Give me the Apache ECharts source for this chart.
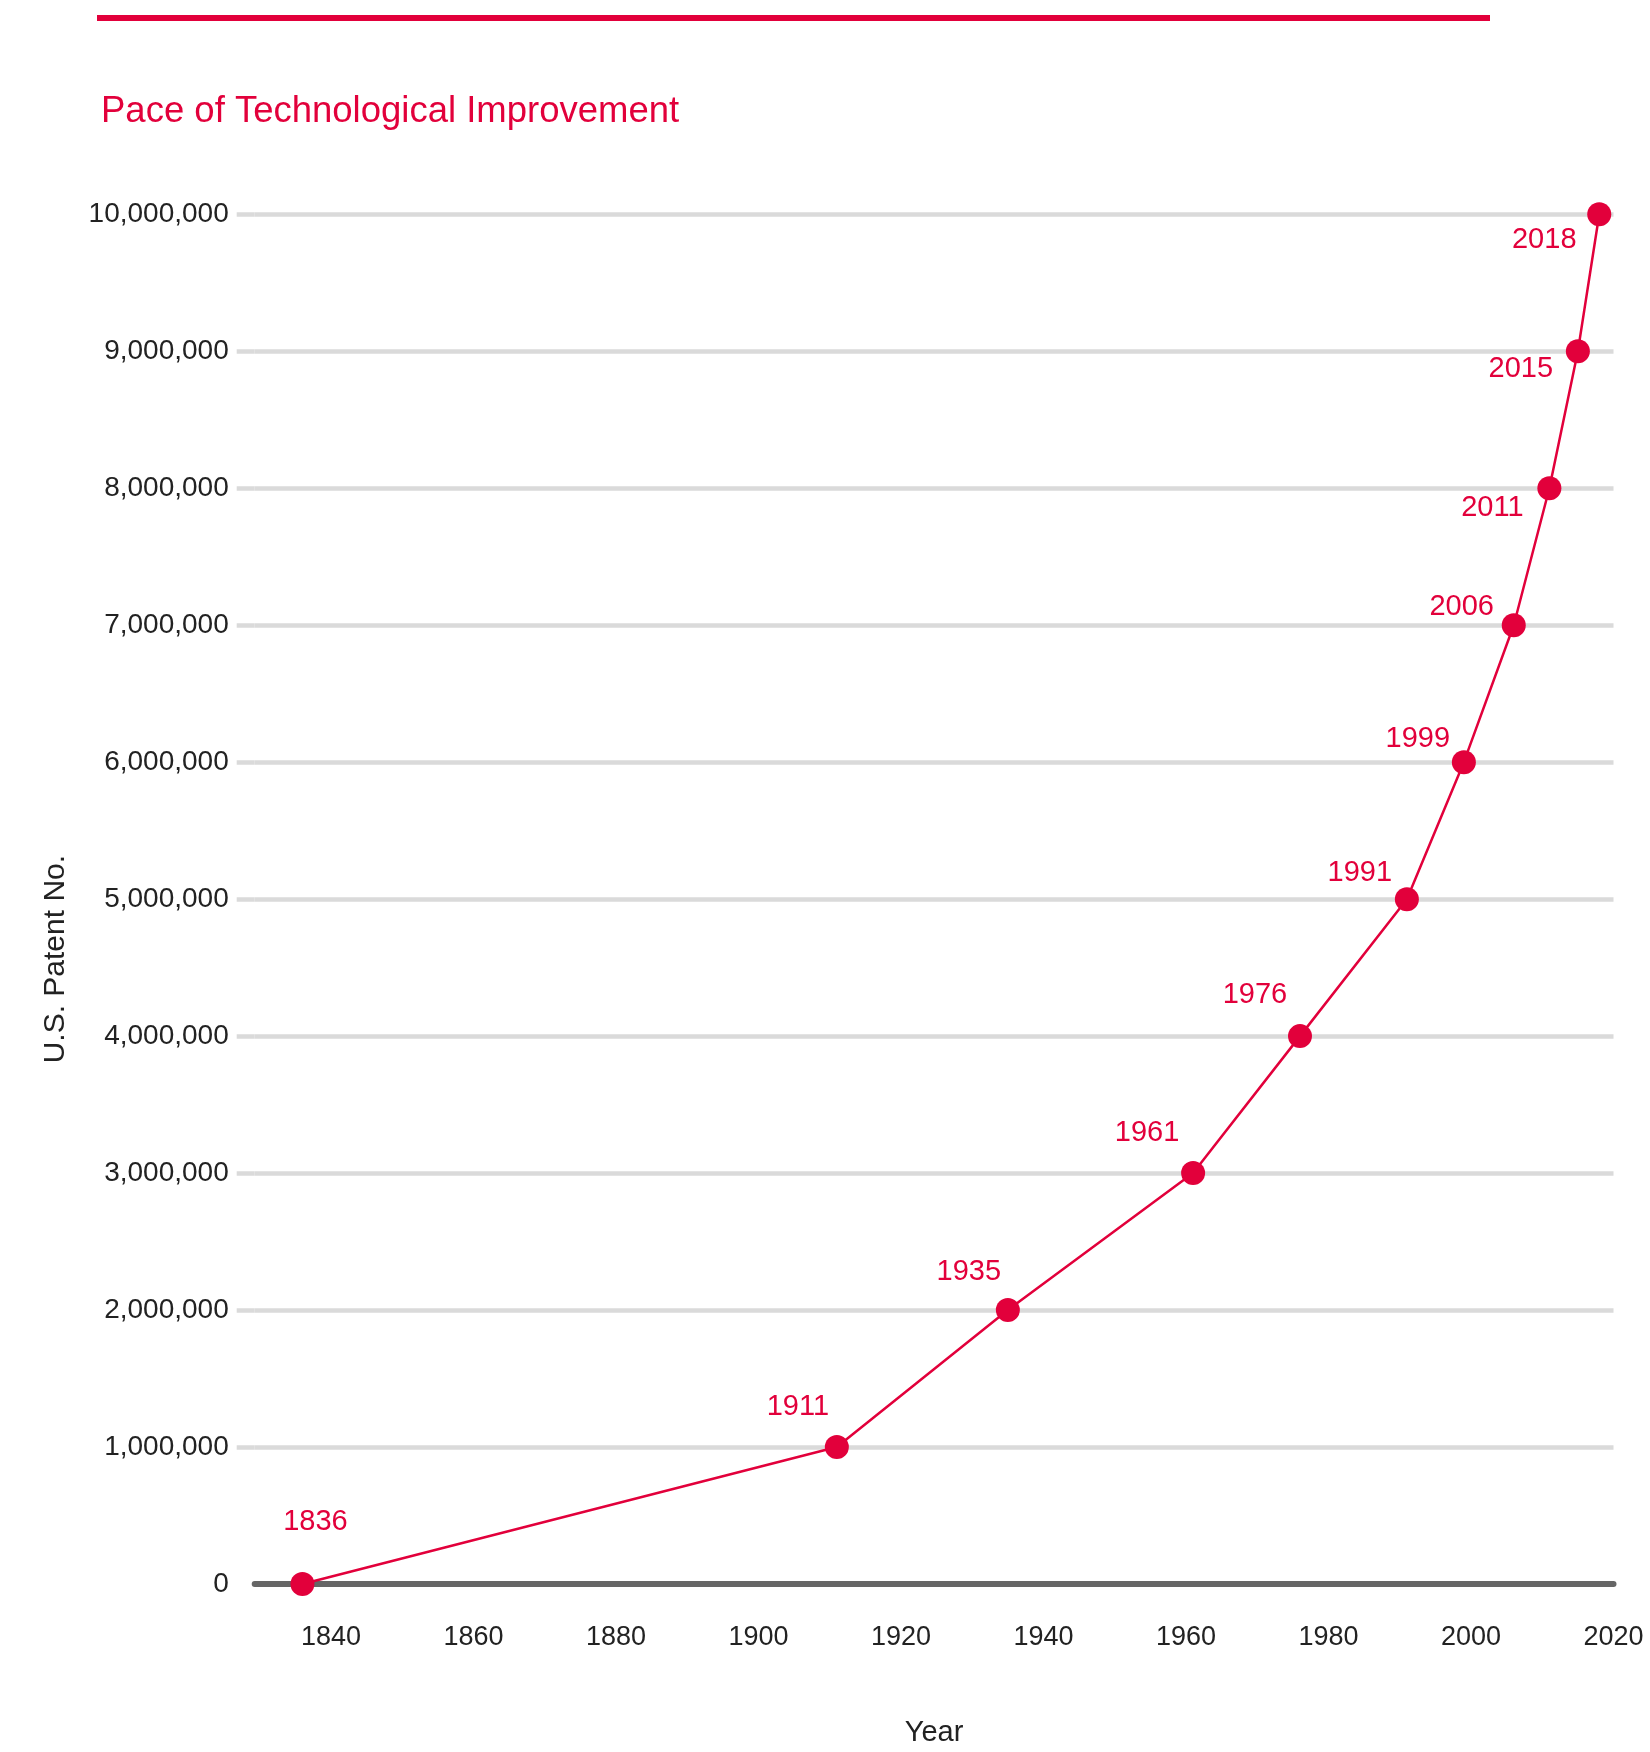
<!DOCTYPE html>
<html>
<head>
<meta charset="utf-8">
<script src="https://cdn.jsdelivr.net/npm/echarts@6/dist/echarts.min.js"></script>
<style>
html,body{margin:0;padding:0;background:#ffffff;}
#chart{width:1650px;height:1752px;}
</style>
</head>
<body>
<div id="chart"></div>
<script>
// ---- data ----
const years = [1836, 1911, 1935, 1961, 1976, 1991, 1999, 2006, 2011, 2015, 2018];
const patentNumbers = [1, 1000000, 2000000, 3000000, 4000000, 5000000, 6000000, 7000000, 8000000, 9000000, 10000000];
const xTickValues = [1840, 1860, 1880, 1900, 1920, 1940, 1960, 1980, 2000, 2020];
const yTickValues = [0, 1000000, 2000000, 3000000, 4000000, 5000000, 6000000, 7000000, 8000000, 9000000, 10000000];
const titleText = 'Pace of Technological Improvement';
const xName = 'Year';
const yName = 'U.S. Patent No.';

// ---- styling (label placement relative to each marker) ----
const labelOffsets = [[13,-62],[-39,-40],[-39,-38],[-46,-40],[-45,-41],[-47,-26],[-46,-23],[-52,-18],[-57,20],[-57,18],[-55,26]];
const RED = '#e2003b';
const FONT = 'Liberation Sans';

const seriesData = years.map((y, i) => ({
  value: [y, patentNumbers[i]],
  label: { offset: labelOffsets[i] }
}));

const chart = echarts.init(document.getElementById('chart'), null, {renderer: 'canvas'});
chart.setOption({
  backgroundColor: '#ffffff',
  animation: false,
  title: {
    text: titleText,
    left: 96,
    top: 88,
    textStyle: { color: RED, fontFamily: FONT, fontSize: 36.5, fontWeight: 'normal' }
  },
  graphic: [{
    type: 'rect',
    left: 97, top: 15,
    shape: { width: 1393, height: 6 },
    style: { fill: RED }
  }],
  grid: { left: 254.7, right: 36.5, top: 214.3, bottom: 165.3, containLabel: false },
  xAxis: {
    type: 'value',
    min: 1829.3,
    max: 2020,
    name: xName,
    nameLocation: 'middle',
    nameGap: 134,
    nameTextStyle: { color: '#222', fontFamily: FONT, fontSize: 29 },
    axisLine: { show: true, onZero: true, lineStyle: { color: '#666666', width: 6 } },
    axisTick: { show: false },
    splitLine: { show: false },
    axisLabel: {
      customValues: xTickValues,
      margin: 40,
      color: '#222',
      fontFamily: FONT,
      fontSize: 27,
      formatter: v => String(v)
    }
  },
  yAxis: {
    type: 'value',
    min: 0,
    max: 10000000,
    interval: 1000000,
    name: yName,
    nameLocation: 'middle',
    nameGap: 184,
    nameTextStyle: { color: '#222', fontFamily: FONT, fontSize: 30, padding: [0, 120, 0, 0] },
    axisLine: { show: false },
    axisTick: {
      show: true,
      length: 18,
      customValues: yTickValues.slice(1),
      lineStyle: { color: '#dadada', width: 4.5 }
    },
    splitLine: { show: true, lineStyle: { color: '#dadada', width: 4.5 } },
    axisLabel: {
      margin: 26,
      color: '#222',
      fontFamily: FONT,
      fontSize: 28,
      formatter: v => Number(v).toLocaleString('en-US')
    }
  },
  series: [{
    type: 'line',
    data: seriesData,
    symbol: 'circle',
    symbolSize: 24,
    lineStyle: { color: RED, width: 2.5 },
    itemStyle: { color: RED },
    z: 5,
    label: {
      show: true,
      position: 'inside',
      color: RED,
      fontFamily: FONT,
      fontSize: 29,
      formatter: p => String(p.value[0])
    }
  }]
});
</script>
</body>
</html>
